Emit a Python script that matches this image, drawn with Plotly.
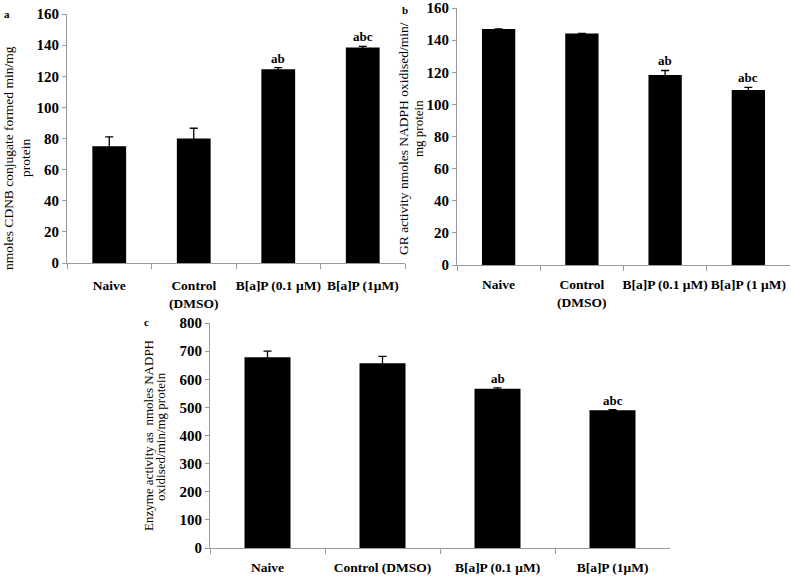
import plotly.graph_objects as go

W, H = 791, 576

cats_a = ["Naive", "Control<br>(DMSO)", "B[a]P (0.1 μM)", "B[a]P (1μM)"]
vals_a = [75, 80, 124.5, 138.5]
err_a = [6, 6.6, 1.1, 0.7]
sig_a = ["", "", "ab", "abc"]

cats_b = ["Naive", "Control<br>(DMSO)", "B[a]P (0.1 μM)", "B[a]P (1 μM)"]
vals_b = [147, 144.2, 118.3, 109]
err_b = [None, None, 2.8, 1.6]
sig_b = ["", "", "ab", "abc"]

cats_c = ["Naive", "Control (DMSO)", "B[a]P (0.1 μM)", "B[a]P (1μM)"]
vals_c = [678, 657, 566, 490]
err_c = [22, 24, 3, 2]
sig_c = ["", "", "ab", "abc"]

FONT = "Liberation Serif, Times New Roman, serif"
AX = "#9a9a9a"

def px(x):
    return x / W

def py(y):
    return 1 - y / H

fig = go.Figure()

panels = [
    ("x", "y", cats_a, vals_a, err_a, sig_a),
    ("x2", "y2", cats_b, vals_b, err_b, sig_b),
    ("x3", "y3", cats_c, vals_c, err_c, sig_c),
]
for xa, ya, cats, vals, errs, sigs in panels:
    fig.add_trace(go.Bar(
        x=cats, y=vals, xaxis=xa, yaxis=ya, width=0.4,
        marker=dict(color="black", line=dict(width=0)),
        error_y=dict(type="data", array=errs, symmetric=True, color="black",
                     thickness=1.3, width=4),
        showlegend=False,
    ))
    for c, v, e, s in zip(cats, vals, errs, sigs):
        if s:
            fig.add_annotation(x=c, y=v + (e or 0), xref=xa, yref=ya, text="<b>%s</b>" % s,
                               showarrow=False, yanchor="bottom", yshift=0,
                               font=dict(family=FONT, size=13, color="black"))

xcommon = dict(showline=True, linecolor=AX, linewidth=1, ticks="outside", tickson="boundaries",
               ticklen=5, tickcolor=AX, showgrid=False, zeroline=False, tickangle=0,
               automargin=False,
               tickfont=dict(family=FONT, size=13.5, color="black", weight="bold"), fixedrange=True)
ycommon = dict(showline=True, linecolor=AX, linewidth=1, ticks="outside", ticklen=4,
               tickcolor=AX, showgrid=False, zeroline=False, automargin=False,
               tickfont=dict(family=FONT, size=15, color="black", weight="bold"), fixedrange=True)

fig.update_layout(
    width=W, height=H, autosize=False,
    margin=dict(l=0, r=0, t=0, b=0, autoexpand=False),
    paper_bgcolor="white", plot_bgcolor="white",
    xaxis=dict(domain=[px(67), px(405)], anchor="y", ticklabelstandoff=10, **xcommon),
    yaxis=dict(domain=[py(263), py(14)], anchor="x", range=[0, 160], dtick=20, **ycommon),
    xaxis2=dict(domain=[px(457), px(790)], anchor="y2", ticklabelstandoff=7, **xcommon),
    yaxis2=dict(domain=[py(265), py(8)], anchor="x2", range=[0, 160], dtick=20, **ycommon),
    xaxis3=dict(domain=[px(210), px(670)], anchor="y3", ticklabelstandoff=7, **xcommon),
    yaxis3=dict(domain=[py(548), py(323)], anchor="x3", range=[0, 800], dtick=100, **ycommon),
)

def label(text, x, y, size, angle=0, bold=False):
    t = "<b>%s</b>" % text if bold else text
    fig.add_annotation(x=px(x), y=py(y), xref="paper", yref="paper", text=t, showarrow=False,
                       textangle=angle, xanchor="center", yanchor="middle",
                       font=dict(family=FONT, size=size, color="black"))

# axis titles
label("nmoles CDNB conjugate formed min/mg", 8, 158, 13.5, -90)
label("protein", 25, 158, 13.5, -90)
label("GR activity nmoles NADPH oxidised/min/", 403, 139, 13.5, -90)
label("mg protein", 418, 128, 13, -90)
label("Enzyme activity as  nmoles NADPH", 148, 436, 13, -90)
label("oxidised/min/mg protein", 160, 437, 13, -90)

# panel letters
label("a", 7, 14, 11, 0, True)
label("b", 405, 10, 11, 0, True)
label("c", 146, 322, 11, 0, True)

fig.write_html("out.html", config={"displayModeBar": False},
               post_script="document.body.style.margin='0';")
